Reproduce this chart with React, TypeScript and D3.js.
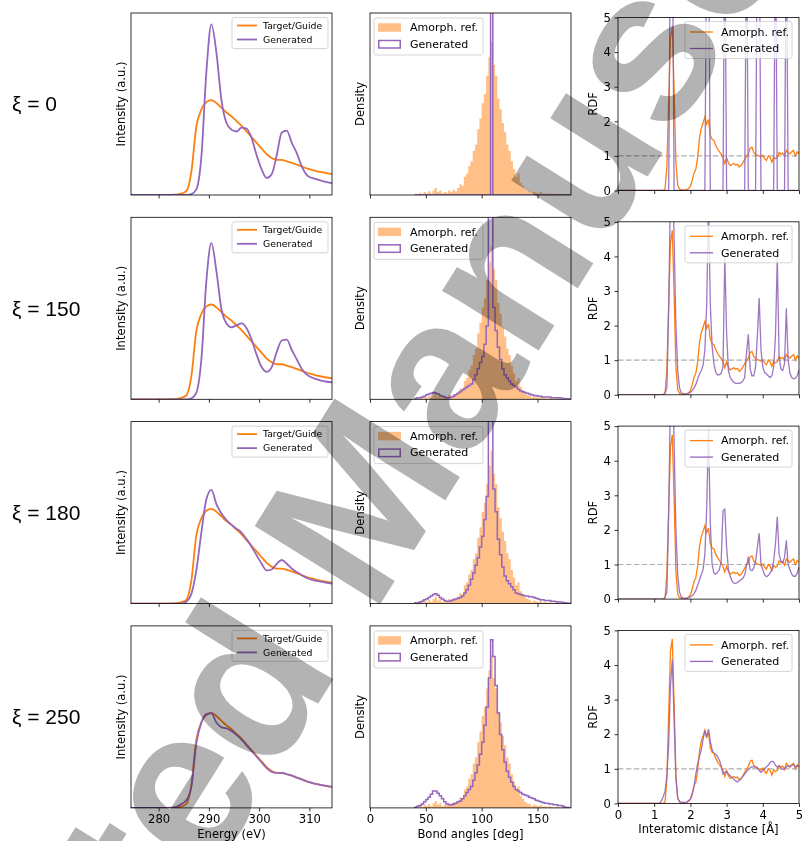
import { useEffect, useRef } from "react";
import * as d3 from "d3";

const ORANGE = "#ff7f0e";
const PURPLE = "#9467bd";
const FONT = "DejaVu Sans, sans-serif";

const rowLabels = ["ξ = 0", "ξ = 150", "ξ = 180", "ξ = 250"];

// ---- XAS spectra (column 1) ----
const energy = d3.range(274.5, 315, 1);
const energyTicks = [280, 290, 300, 310];
const xasTarget = [
  0, 0, 0, 0, 0, 0, 0, 0, 0.002, 0.005,
  0.015, 0.04, 0.24, 0.72, 0.9, 0.98, 1.0, 0.97, 0.92, 0.87,
  0.83, 0.78, 0.73, 0.67, 0.61, 0.55, 0.49, 0.43, 0.39, 0.37,
  0.37, 0.355, 0.34, 0.32, 0.3, 0.28, 0.265, 0.25, 0.24, 0.23,
  0.22,
];
const xasGen0 = [
  0, 0, 0, 0, 0, 0, 0, 0, 0, 0,
  0, 0, 0.01, 0.06, 0.4, 1.3, 1.8, 1.5, 1.0, 0.76,
  0.69, 0.67, 0.71, 0.7, 0.6, 0.42, 0.27, 0.18, 0.22, 0.42,
  0.66, 0.68, 0.55, 0.44, 0.3, 0.21, 0.18, 0.165, 0.15, 0.135,
  0.125,
];
const xasGen1 = [
  0, 0, 0, 0, 0, 0, 0, 0, 0, 0,
  0, 0, 0.01, 0.07, 0.42, 1.25, 1.65, 1.35, 0.95, 0.8,
  0.76, 0.78, 0.8, 0.75, 0.63, 0.47, 0.34, 0.29, 0.34, 0.5,
  0.62, 0.63, 0.52, 0.42, 0.32, 0.26, 0.23, 0.21, 0.195, 0.185,
  0.18,
];
const xasGen2 = [
  0, 0, 0, 0, 0, 0, 0, 0, 0, 0,
  0, 0.02, 0.1, 0.35, 0.75, 1.1, 1.2, 1.05, 0.95, 0.88,
  0.83, 0.79, 0.75, 0.68, 0.6, 0.51, 0.42, 0.35, 0.36, 0.42,
  0.46, 0.42, 0.37, 0.33, 0.3, 0.27, 0.25, 0.24, 0.23, 0.22,
  0.21,
];
const xasGen3 = [
  0, 0, 0, 0, 0, 0, 0, 0, 0, 0.01,
  0.04, 0.08, 0.22, 0.68, 0.9, 0.99, 1.0, 0.9, 0.85, 0.84,
  0.81, 0.77, 0.72, 0.66, 0.6, 0.54, 0.48, 0.42, 0.38, 0.37,
  0.37, 0.355, 0.34, 0.32, 0.3, 0.28, 0.265, 0.25, 0.24, 0.23,
  0.225,
];
const xasGenerated = [xasGen0, xasGen1, xasGen2, xasGen3];

// ---- bond angle histograms (column 2), 2 deg bins from 40 to 180 ----
const angleEdges = d3.range(40, 182, 2);
const angleTicks = [0, 50, 100, 150];
const angleRef = [
  0.8, 0, 1.5, 0.5, 2, 1, 2.5, 1, 3, 4.5,
  2, 3, 1, 2, 1.5, 3, 2, 3.5, 2.5, 4.5,
  7, 6, 12, 14, 19, 22, 29, 33, 43, 50,
  60, 66, 78, 90, 100, 85, 78, 63, 56, 47,
  41, 33, 29, 22, 17, 12, 14, 8, 6, 4,
  3, 2.5, 1, 2, 1.5, 1, 2, 0.8, 1, 0.5,
  1.2, 0.6, 0, 0.8, 0.5, 0, 0.8, 0, 0.5, 0,
];
const angleGen0 = [
  0, 0, 0, 0, 0, 0, 0, 0, 0, 0,
  0, 0, 0, 0, 0, 0, 0, 0, 0, 0,
  0, 0, 0, 0, 0, 0, 0, 0, 0, 0,
  0, 0, 0, 0, 500, 0, 0, 0, 0, 0,
  0, 0, 0, 0, 0, 0, 0, 0, 0, 0,
  0, 0, 0, 0, 0, 0, 0, 0, 0, 0,
  0, 0, 0, 0, 0, 0, 0, 0, 0, 0,
];
const angleGen1 = [
  0.5, 1, 1, 1.5, 2, 3, 3.5, 4, 4.5, 4,
  3.5, 2.5, 2, 1.5, 1, 1, 1.5, 2, 3, 4,
  5, 6, 7, 8, 9, 10, 13, 16, 20, 24,
  28, 36, 48, 300, 400, 60, 45, 34, 26, 20,
  16, 14, 12, 10, 9, 8, 6.5, 5.5, 5, 4.5,
  4, 3.5, 3, 2.5, 2.5, 2, 2, 1.5, 1.5, 1.5,
  1.5, 1, 1, 1, 1, 0.8, 0.6, 0.5, 0.3, 0.2,
];
const angleGen2 = [
  0.5, 0.5, 1, 1.5, 2.5, 3, 4, 5, 6, 6.5,
  5.5, 4, 3, 2, 1.5, 1.5, 2, 2.5, 3, 3.5,
  4, 5, 7, 9, 12, 16, 20, 25, 30, 37,
  44, 55, 70, 300, 300, 75, 60, 42, 32, 24,
  18, 15, 13, 11, 9, 7, 6.5, 6, 5.5, 5,
  5, 4.5, 4.5, 4, 3.5, 3, 2.5, 2.5, 2, 2,
  2, 1.5, 1.5, 1.2, 1, 1, 0.8, 0.5, 0.3, 0.2,
];
const angleGen3 = [
  0.5, 1, 1.5, 2.5, 4, 5.5, 7, 9, 11, 11,
  9.5, 8, 6, 4, 2.5, 2, 2, 2.5, 3, 4,
  4.5, 6, 8, 10, 12, 14, 18, 23, 28, 35,
  43, 54, 66, 85, 110, 99, 80, 62, 48, 38,
  30, 24, 20, 17, 14, 12, 11, 10, 9, 8.5,
  8, 7, 6.5, 6, 5, 4.5, 4, 3.5, 3, 3,
  2.5, 2.5, 2, 2, 1.5, 1.5, 1, 0.5, 0.3, 0,
];
const angleGenerated = [angleGen0, angleGen1, angleGen2, angleGen3];

// ---- radial distribution functions (column 3), r = 1.00 .. 5.00 step 0.05 ----
const rdfR = d3.range(20, 101).map((i) => i / 20);
const rdfTicks = [0, 1, 2, 3, 4, 5];
const rdfRef = [
  0, 0, 0, 0, 0, 0, 0.05, 0.7, 2.6, 4.4,
  4.75, 2.9, 0.8, 0.15, 0.04, 0.02, 0.02, 0.02, 0.03, 0.06,
  0.12, 0.3, 0.5, 0.62, 0.95, 1.5, 1.8, 1.95, 2.12, 1.92,
  2.05, 1.6, 1.48, 1.45, 1.3, 1.2, 1.12, 1.05, 0.95, 0.78,
  0.95, 0.8, 0.72, 0.75, 0.78, 0.74, 0.76, 0.68, 0.72, 0.8,
  0.9, 1.0, 1.06, 1.22, 1.25, 1.1, 1.05, 1.02, 1.0, 0.97,
  1.02, 0.92, 0.87, 1.0, 0.95, 0.82, 0.97, 0.92, 0.95, 1.1,
  1.05, 1.08, 0.98, 1.16, 1.1, 1.06, 1.12, 1.16, 1.0, 1.12,
  1.06,
];
const rdfGen0 = [
  0, 0, 0, 0, 0, 0, 0, 0, 0, 30,
  30, 0, 0, 0, 0, 0, 0, 0, 0, 0,
  0, 0, 0, 0, 0, 0, 0, 0, 0, 20,
  20, 0, 0, 0, 0, 0, 0, 0, 0, 15,
  0, 0, 0, 0, 0, 0, 0, 0, 0, 0,
  0, 10, 0, 0, 0, 0, 0, 12, 12, 0,
  0, 0, 0, 0, 0, 0, 0, 20, 0, 0,
  0, 0, 0, 20, 0, 0, 0, 0, 0, 0,
  0,
];
const rdfGen1 = [
  0, 0, 0, 0, 0, 0, 0.05, 0.2, 2.5, 6,
  7, 4.5, 2, 0.7, 0.2, 0.06, 0.03, 0.02, 0.02, 0.04,
  0.07, 0.12, 0.2, 0.3, 0.45, 0.6, 0.7, 0.85, 1.3, 2.6,
  5.6, 2.6, 1.4, 0.9, 0.65, 0.58, 0.58, 0.62, 0.8, 4.0,
  1.8, 0.7, 0.5, 0.42, 0.36, 0.33, 0.33, 0.33, 0.35, 0.4,
  0.5, 1.2, 1.75, 0.75, 0.55, 0.55, 0.8, 1.7, 2.8, 1.3,
  0.8, 0.65, 0.6, 0.55, 0.5, 0.55, 0.8, 1.7, 4.0, 1.1,
  0.75, 0.7, 0.9, 2.5, 1.0, 0.62, 0.5, 0.46, 0.48, 0.55,
  0.72,
];
const rdfGen2 = [
  0, 0, 0, 0, 0, 0, 0.05, 0.2, 2.5, 6,
  7, 4.5, 2, 0.7, 0.2, 0.06, 0.03, 0.02, 0.02, 0.04,
  0.06, 0.1, 0.16, 0.25, 0.4, 0.55, 0.7, 0.85, 1.3, 2.6,
  4.9, 2.2, 1.0, 0.75, 0.72, 0.78, 0.85, 1.1, 2.55, 2.6,
  1.5, 0.85, 0.65, 0.52, 0.46, 0.45, 0.48, 0.52, 0.56, 0.6,
  0.7, 0.95, 1.22, 0.85, 0.82, 0.9, 1.1, 1.5, 1.9, 1.0,
  0.85, 0.7, 0.65, 0.68, 0.75, 0.85, 1.1, 1.6, 2.38, 1.3,
  1.1, 1.05, 1.2, 1.7, 1.0, 0.85, 0.72, 0.66, 0.66, 0.75,
  0.93,
];
const rdfGen3 = [
  0, 0, 0, 0, 0.08, 0.2, 0.35, 0.8, 1.7, 3.4,
  4.15, 2.4, 0.7, 0.15, 0.05, 0.03, 0.03, 0.03, 0.04, 0.08,
  0.12, 0.25, 0.5, 0.85, 1.15, 1.35, 1.55, 1.85, 2.1, 1.9,
  2.15, 1.8, 1.55, 1.45, 1.42, 1.35, 1.25, 1.1, 0.85, 0.9,
  0.92, 0.85, 0.8, 0.75, 0.7, 0.65, 0.62, 0.66, 0.72, 0.78,
  0.85, 0.92, 0.98, 1.02, 1.06, 1.05, 1.06, 1.03, 0.95, 0.9,
  0.95, 1.0, 1.06, 1.1, 1.18, 1.22, 1.2, 1.1, 1.05, 1.08,
  1.02, 0.98, 1.0, 1.05, 1.08, 1.05, 1.1, 1.12, 1.05, 1.08,
  1.06,
];
const rdfGenerated = [rdfGen0, rdfGen1, rdfGen2, rdfGen3];

const App = () => {
  const svgRef = useRef<SVGSVGElement>(null);

  useEffect(() => {
    const W = 803;
    const H = 841;
    const FS = 11.6; // tick + axis label size
    const svg = d3.select(svgRef.current).attr("width", W).attr("height", H);
    svg.selectAll("*").remove();
    svg.append("rect").attr("width", W).attr("height", H).attr("fill", "white");

    const rowTop = (i: number) => 13 + 204.3 * i;

    // panel frame with clip
    const makePanel = (id: string, left: number, top: number, w: number, h: number) => {
      const g = svg.append("g").attr("transform", `translate(${left},${top})`);
      g.append("clipPath").attr("id", id).append("rect").attr("width", w).attr("height", h);
      const plot = g.append("g").attr("clip-path", `url(#${id})`);
      return { g, plot };
    };

    const styleAxis = (ax: any) => {
      ax.select(".domain").remove();
      ax.selectAll(".tick line").attr("stroke", "black").attr("stroke-width", 0.8);
      ax.selectAll("text").attr("font-family", FONT).attr("font-size", FS).attr("fill", "black");
    };

    const bottomAxis = (g: any, x: any, ticks: number[], h: number, labels: boolean) => {
      const ax = g
        .append("g")
        .attr("transform", `translate(0,${h})`)
        .call(
          d3
            .axisBottom(x)
            .tickValues(ticks)
            .tickSize(3.5)
            .tickPadding(3.5)
            .tickFormat(labels ? (d: any) => String(d) : () => "")
        );
      styleAxis(ax);
    };

    const spine = (g: any, w: number, h: number) =>
      g.append("rect").attr("width", w).attr("height", h).attr("fill", "none").attr("stroke", "black").attr("stroke-width", 0.8);

    const yLabel = (g: any, text: string, x: number, y: number) =>
      g
        .append("text")
        .attr("transform", `translate(${x},${y}) rotate(-90)`)
        .attr("text-anchor", "middle")
        .attr("dy", "0.35em")
        .attr("font-family", FONT)
        .attr("font-size", FS)
        .text(text);

    const xLabel = (g: any, text: string, w: number, h: number) =>
      g
        .append("text")
        .attr("x", w / 2)
        .attr("y", h + 30)
        .attr("text-anchor", "middle")
        .attr("font-family", FONT)
        .attr("font-size", FS)
        .text(text);

    const legendBox = (g: any, x: number, y: number, w: number, h: number) =>
      g
        .append("rect")
        .attr("x", x)
        .attr("y", y)
        .attr("width", w)
        .attr("height", h)
        .attr("rx", 2)
        .attr("fill", "white")
        .attr("fill-opacity", 0.8)
        .attr("stroke", "#cccccc")
        .attr("stroke-width", 0.8);

    const legendText = (g: any, text: string, x: number, y: number, size: number) =>
      g
        .append("text")
        .attr("x", x)
        .attr("y", y)
        .attr("dy", "0.35em")
        .attr("font-family", FONT)
        .attr("font-size", size)
        .text(text);

    rowLabels.forEach((label, i) => {
      const top = rowTop(i);
      const last = i === rowLabels.length - 1;

      svg
        .append("text")
        .attr("x", 12)
        .attr("y", top + 91)
        .attr("dy", "0.35em")
        .attr("font-family", "Liberation Sans, Arial, sans-serif")
        .attr("font-size", 21)
        .text(label);

      // ---- column 1: XAS ----
      {
        const w = 201;
        const h = 182;
        const { g, plot } = makePanel(`xas${i}`, 131, top, w, h);
        const x = d3.scaleLinear().domain([274.5, 314.5]).range([0, w]);
        const y = d3.scaleLinear().domain([0, 1.92]).range([h, 0]);
        const line = d3
          .line<number>()
          .x((_, k) => x(energy[k]))
          .y((d) => y(d))
          .curve(d3.curveMonotoneX);
        plot.append("path").datum(xasTarget).attr("fill", "none").attr("stroke", ORANGE).attr("stroke-width", 1.8).attr("d", line);
        plot.append("path").datum(xasGenerated[i]).attr("fill", "none").attr("stroke", PURPLE).attr("stroke-width", 1.8).attr("d", line);
        spine(g, w, h);
        bottomAxis(g, x, energyTicks, h, last);
        yLabel(g, "Intensity (a.u.)", -10, h / 2);
        if (last) xLabel(g, "Energy (eV)", w, h);
        legendBox(g, 101, 4.5, 96, 31);
        g.append("line").attr("x1", 106).attr("x2", 126).attr("y1", 12.5).attr("y2", 12.5).attr("stroke", ORANGE).attr("stroke-width", 1.8);
        g.append("line").attr("x1", 106).attr("x2", 126).attr("y1", 26.5).attr("y2", 26.5).attr("stroke", PURPLE).attr("stroke-width", 1.8);
        legendText(g, "Target/Guide", 132, 12.5, 9.3);
        legendText(g, "Generated", 132, 26.5, 9.3);
      }

      // ---- column 2: bond angles ----
      {
        const w = 201;
        const h = 182;
        const { g, plot } = makePanel(`ang${i}`, 370, top, w, h);
        const x = d3.scaleLinear().domain([0, 180]).range([0, w]);
        const y = d3.scaleLinear().domain([0, 119]).range([h, 0]);
        const stepPts = (vals: number[]) => [
          [angleEdges[0], 0],
          ...vals.map((v, k) => [angleEdges[k], v]),
          [angleEdges[vals.length], vals[vals.length - 1]],
          [angleEdges[vals.length], 0],
        ];
        const area = d3
          .area<number[]>()
          .x((d) => x(d[0]))
          .y0(h)
          .y1((d) => y(d[1]))
          .curve(d3.curveStepAfter);
        const step = d3
          .line<number[]>()
          .x((d) => x(d[0]))
          .y((d) => y(Math.min(d[1], 200)))
          .curve(d3.curveStepAfter);
        plot.append("path").datum(stepPts(angleRef)).attr("fill", ORANGE).attr("fill-opacity", 0.5).attr("d", area);
        plot
          .append("path")
          .datum(stepPts(angleGenerated[i]))
          .attr("fill", "none")
          .attr("stroke", PURPLE)
          .attr("stroke-width", 1.5)
          .attr("d", step);
        spine(g, w, h);
        bottomAxis(g, x, angleTicks, h, last);
        yLabel(g, "Density", -10, h / 2);
        if (last) xLabel(g, "Bond angles [deg]", w, h);
        legendBox(g, 4, 5, 109, 37);
        g.append("rect").attr("x", 8).attr("y", 10.25).attr("width", 23).attr("height", 8.5).attr("fill", ORANGE).attr("fill-opacity", 0.5);
        g.append("rect").attr("x", 8.75).attr("y", 27.5).attr("width", 21.5).attr("height", 7.5).attr("fill", "none").attr("stroke", PURPLE).attr("stroke-width", 1.5);
        legendText(g, "Amorph. ref.", 40, 14.5, 11);
        legendText(g, "Generated", 40, 31, 11);
      }

      // ---- column 3: RDF ----
      {
        const w = 181;
        const h = 173;
        const { g, plot } = makePanel(`rdf${i}`, 618, top + 4.5, w, h);
        const x = d3.scaleLinear().domain([0, 5]).range([0, w]);
        const y = d3.scaleLinear().domain([0, 5]).range([h, 0]);
        const line = d3
          .line<number>()
          .x((_, k) => (k === 0 ? x(0) : x(rdfR[k - 1])))
          .y((d) => y(Math.min(d, 8)));
        plot
          .append("line")
          .attr("x1", x(0))
          .attr("x2", x(5))
          .attr("y1", y(1))
          .attr("y2", y(1))
          .attr("stroke", "#999999")
          .attr("stroke-opacity", 0.8)
          .attr("stroke-width", 1.2)
          .attr("stroke-dasharray", "5.5,2.4");
        plot.append("path").datum([0, ...rdfRef]).attr("fill", "none").attr("stroke", ORANGE).attr("stroke-width", 1.3).attr("d", line);
        plot
          .append("path")
          .datum([0, ...rdfGenerated[i]])
          .attr("fill", "none")
          .attr("stroke", PURPLE)
          .attr("stroke-opacity", 0.9)
          .attr("stroke-width", 1.3)
          .attr("d", line);
        spine(g, w, h);
        bottomAxis(g, x, rdfTicks, h, last);
        const ay = g
          .append("g")
          .call(d3.axisLeft(y).tickValues(rdfTicks).tickSize(3.5).tickPadding(3.5).tickFormat((d: any) => String(d)));
        styleAxis(ay);
        yLabel(g, "RDF", -25, h / 2);
        if (last) xLabel(g, "Interatomic distance [Å]", w, h);
        legendBox(g, 67, 4, 107, 37);
        g.append("line").attr("x1", 72).attr("x2", 95).attr("y1", 14.5).attr("y2", 14.5).attr("stroke", ORANGE).attr("stroke-width", 1.3);
        g.append("line").attr("x1", 72).attr("x2", 95).attr("y1", 31).attr("y2", 31).attr("stroke", PURPLE).attr("stroke-width", 1.3);
        legendText(g, "Amorph. ref.", 103, 14.5, 11);
        legendText(g, "Generated", 103, 31, 11);
      }
    });

    // watermark
    svg
      .append("text")
      .attr("transform", "translate(-172,1488) rotate(-58)")
      .attr("font-family", "Liberation Sans, Arial, sans-serif")
      .attr("font-weight", "bold")
      .attr("font-size", 215)
      .attr("fill", "#b3b3b3")
      .style("mix-blend-mode", "multiply")
      .text("Accepted Manuscript");
  }, []);

  return <svg ref={svgRef} style={{ position: "absolute", left: 0, top: 0 }} />;
};

export default App;
